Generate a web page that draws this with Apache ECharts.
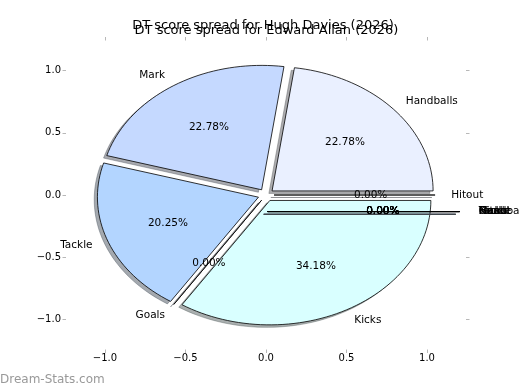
<!DOCTYPE html>
<html><head><meta charset="utf-8">
<script src="https://cdn.jsdelivr.net/npm/echarts@6/dist/echarts.min.js"></script>
<style>html,body{margin:0;padding:0;background:#fff}#c{width:520px;height:390px}</style>
</head><body><div id="c"></div>
<script>
// ---- data ----
const titles = ['DT score spread for Hugh Davies (2026)', 'DT score spread for Edward Allan (2026)'];
const categoriesA = ['Hitout', 'Handballs', 'Mark', 'Tackle', 'Goals', 'Kicks'];
const valuesA = [0, 22.78, 22.78, 20.25, 0, 34.18];
const categoriesB = ['Kicks', 'Mark', 'Tackle', 'Goals', 'Hitout', 'Handballs'];
const valuesB = [0, 0, 0, 0, 0, 0];
const tickValues = [-1, -0.5, 0, 0.5, 1];
const tickLabels = ['\u22121.0', '\u22120.5', '0.0', '0.5', '1.0'];
const watermark = 'Dream-Stats.com';

// ---- style ----
const FONT = 'DejaVu Sans';
const EXPLODE = 0.05;
const colorsA = ['#dde8ff', '#eaf0ff', '#c5d9ff', '#b3d5ff', '#cfe0ff', '#d9ffff'];
const colorsB = ['#d9ffff', '#c5d9ff', '#b3d5ff', '#cfe0ff', '#dde8ff', '#eaf0ff'];

function geom(values) {
  const total = values.reduce((a, b) => a + b, 0);
  const norm = total > 1 ? total : 1;
  let th = 0;
  return values.map(v => {
    const f = v / norm;
    const t1 = th, t2 = th + 360 * f;
    th = t2;
    const mid = (t1 + t2) / 2 * Math.PI / 180;
    return { t1, t2, mid, f };
  });
}
function hexRgb(h) { return [1, 3, 5].map(i => parseInt(h.substr(i, 2), 16)); }
function shadowCol(h) { const c = hexRgb(h).map(x => Math.round(x * 0.3)); return 'rgba(' + c.join(',') + ',0.45)'; }

function wedgePts(api, g, ox, oy) {
  const cx = EXPLODE * Math.cos(g.mid) + ox, cy = EXPLODE * Math.sin(g.mid) + oy;
  const pts = [api.coord([cx, cy])];
  const n = Math.max(2, Math.ceil((g.t2 - g.t1) / 2));
  for (let k = 0; k <= n; k++) {
    const a = (g.t1 + (g.t2 - g.t1) * k / n) * Math.PI / 180;
    pts.push(api.coord([cx + Math.cos(a), cy + Math.sin(a)]));
  }
  return pts;
}

function pieSeries(values, cats, colors, xi, yi, zBase) {
  const G = geom(values);
  const data = values.map((v, i) => [i, v]);
  const base = { type: 'custom', xAxisIndex: xi, yAxisIndex: yi, data: data, clip: false, silent: true, animation: false };
  return [
    Object.assign({}, base, { z: zBase, renderItem: (p, api) => {
      const g = G[p.dataIndex], c = shadowCol(colors[p.dataIndex]);
      return { type: 'polygon', shape: { points: wedgePts(api, g, -0.02, -0.02) }, style: { fill: c, stroke: c, lineWidth: 0.8 } };
    }}),
    Object.assign({}, base, { z: zBase + 1, renderItem: (p, api) => {
      const g = G[p.dataIndex];
      return { type: 'polygon', shape: { points: wedgePts(api, g, 0, 0) }, style: { fill: colors[p.dataIndex], stroke: '#000', lineWidth: 0.8 } };
    }}),
    Object.assign({}, base, { z: zBase + 2, renderItem: (p, api) => {
      const g = G[p.dataIndex];
      const cx = EXPLODE * Math.cos(g.mid), cy = EXPLODE * Math.sin(g.mid);
      const lx = cx + 1.1 * Math.cos(g.mid), ly = cy + 1.1 * Math.sin(g.mid);
      const px = cx + 0.6 * Math.cos(g.mid), py = cy + 0.6 * Math.sin(g.mid);
      const L = api.coord([lx, ly]), P = api.coord([px, py]);
      return { type: 'group', children: [
        { type: 'text', x: L[0], y: L[1], style: { text: cats[p.dataIndex], fill: '#000', fontSize: 10.5, fontFamily: FONT, align: lx > 0 ? 'left' : 'right', verticalAlign: 'middle' } },
        { type: 'text', x: P[0], y: P[1], style: { text: (g.f * 100).toFixed(2) + '%', fill: '#000', fontSize: 10.5, fontFamily: FONT, align: 'center', verticalAlign: 'middle' } }
      ]};
    }})
  ];
}

function fmt(v) { const i = tickValues.findIndex(t => Math.abs(t - v) < 1e-9); return i >= 0 ? tickLabels[i] : ''; }
const tickStyle = { show: true, customValues: tickValues, length: 3.5, inside: false, lineStyle: { color: '#b8b8b8', width: 1 } };
const labelStyle = { show: true, customValues: tickValues, formatter: fmt, fontSize: 10, fontFamily: FONT, color: '#000' };
const hiddenLine = { show: true, onZero: false, lineStyle: { color: 'rgba(0,0,0,0)', width: 0 } };
const noLine = { show: false };

const option = {
  backgroundColor: '#fff',
  animation: false,
  title: [
    { text: titles[0], left: 263, top: 19, textAlign: 'center', padding: 0, textStyle: { fontSize: 13, fontWeight: 'normal', color: '#000', fontFamily: FONT } },
    { text: titles[1], left: 266.5, top: 24.5, textAlign: 'center', padding: 0, textStyle: { fontSize: 13, fontWeight: 'normal', color: '#000', fontFamily: FONT } }
  ],
  grid: [
    { left: 66, top: 40.5, width: 400, height: 309 },
    { left: 66, top: 40.5, width: 400, height: 309 }
  ],
  xAxis: [
    { gridIndex: 0, type: 'value', min: -1.242, max: 1.242, position: 'bottom', axisLine: hiddenLine, splitLine: noLine, axisTick: tickStyle, axisLabel: Object.assign({}, labelStyle, { margin: 4 }) },
    { gridIndex: 0, type: 'value', min: -1.242, max: 1.242, position: 'top', axisLine: hiddenLine, splitLine: noLine, axisTick: tickStyle, axisLabel: { show: false } },
    { gridIndex: 1, type: 'value', min: -1.0, max: 1.0833, show: false, splitLine: noLine }
  ],
  yAxis: [
    { gridIndex: 0, type: 'value', min: -1.242, max: 1.242, position: 'left', axisLine: hiddenLine, splitLine: noLine, axisTick: tickStyle, axisLabel: Object.assign({}, labelStyle, { margin: 5 }) },
    { gridIndex: 0, type: 'value', min: -1.242, max: 1.242, position: 'right', axisLine: hiddenLine, splitLine: noLine, axisTick: tickStyle, axisLabel: { show: false } },
    { gridIndex: 1, type: 'value', min: -1.0, max: 1.24, show: false, splitLine: noLine }
  ],
  graphic: [
    { type: 'text', left: 0, top: 374, style: { text: watermark, fill: '#999', fontSize: 12, fontFamily: FONT } }
  ],
  series: [].concat(
    pieSeries(valuesA, categoriesA, colorsA, 0, 0, 1),
    pieSeries(valuesB, categoriesB, colorsB, 2, 2, 4)
  )
};
echarts.init(document.getElementById('c')).setOption(option);
</script></body></html>
